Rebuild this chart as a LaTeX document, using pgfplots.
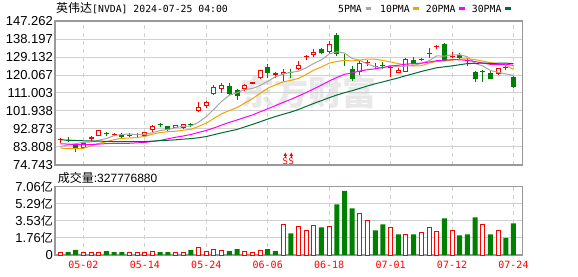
\documentclass[border=0pt]{standalone}
\usepackage{pgfplots}
\pgfplotsset{compat=1.18}
\usepackage{pgfplotstable}
\usepackage{fontspec}
\setmainfont{Liberation Sans}
\newfontfamily\cjk{Noto Sans CJK SC}
\newfontfamily\mono{DejaVu Sans Mono}

\definecolor{upred}{HTML}{FF0000}
\definecolor{dngreen}{HTML}{008000}
\definecolor{mafive}{HTML}{A6A6A6}
\definecolor{maten}{HTML}{F2A300}
\definecolor{matwenty}{HTML}{FF00FF}
\definecolor{mathirty}{HTML}{006B36}
\definecolor{framec}{HTML}{999999}
\definecolor{gridc}{HTML}{D0D0D0}

% red (up) candles
\pgfplotstableread{
i O H L C
0 87.20 88.30 85.70 87.76
3 83.10 86.10 82.60 85.82
4 88.00 89.30 87.00 88.79
5 89.50 92.20 89.30 92.14
7 89.70 90.90 89.50 90.41
11 89.50 91.50 89.20 91.36
12 92.40 94.90 91.50 94.63
15 93.40 95.00 93.20 94.78
16 93.60 95.50 92.90 95.39
18 102.10 106.30 101.30 103.80
19 104.50 107.10 103.30 106.47
20 110.30 115.00 109.80 113.90
21 113.20 115.90 111.20 114.83
24 113.20 115.50 112.00 115.00
25 115.70 116.70 115.50 116.44
26 118.40 122.60 118.10 122.44
28 120.20 121.60 118.70 120.89
29 120.60 122.90 117.00 121.79
31 123.30 127.10 122.40 125.20
32 129.30 130.20 127.50 129.80
33 130.00 133.30 129.10 131.88
35 131.60 137.20 130.50 135.58
39 121.70 127.10 120.10 126.09
40 126.10 127.50 124.60 126.60
43 123.80 124.60 119.20 124.30
44 121.20 123.80 121.00 122.67
45 121.70 128.50 121.50 128.28
47 127.60 128.80 127.10 128.20
48 130.90 133.80 128.50 131.38
49 134.20 135.20 133.00 134.91
51 129.00 131.80 128.50 129.50
57 120.70 123.80 120.10 123.54
}\redtab

% hollow interiors of the larger up candles
\pgfplotstableread{
i O C
3 83.10 85.82
5 89.50 92.14
11 89.50 91.36
12 92.40 94.63
15 93.40 94.78
16 93.60 95.39
18 102.10 103.80
19 104.50 106.47
20 110.30 113.90
21 113.20 114.83
24 113.20 115.00
26 118.40 122.44
29 120.60 121.79
31 123.30 125.20
33 130.00 131.88
35 131.60 135.58
39 121.70 126.09
44 121.20 122.67
45 121.70 128.28
57 120.70 123.54
}\hollowtab

% green (down) candles
\pgfplotstableread{
i O H L C
1 87.40 88.60 86.20 86.90
2 84.60 85.20 81.30 83.04
6 91.00 91.50 89.50 90.55
8 89.90 90.70 88.20 88.75
9 90.10 91.00 89.00 89.87
10 90.40 90.90 88.70 89.95
13 95.20 95.80 94.00 94.80
14 94.20 94.60 91.90 92.48
17 95.50 96.10 94.00 95.10
22 114.40 116.00 110.00 110.50
23 112.50 112.80 107.30 109.63
27 124.10 125.80 118.70 120.99
30 121.70 122.90 118.70 121.20
34 133.30 133.80 130.50 130.98
36 140.20 141.40 129.60 130.78
37 127.70 130.50 124.60 127.20
38 122.90 124.60 117.00 118.11
41 124.40 126.30 122.90 124.00
42 124.90 126.80 122.90 124.50
46 127.60 129.10 125.40 125.83
50 135.80 136.20 127.04 127.10
52 130.10 131.30 128.00 128.44
53 127.40 128.50 124.60 127.00
54 121.70 122.10 116.70 117.99
55 122.30 122.40 116.70 121.90
56 121.20 122.10 117.90 118.30
58 123.90 124.60 122.40 123.50
59 119.20 119.50 113.60 114.25
}\greentab

% moving averages: a=5, b=10, c=20, d=30
\pgfplotstableread{
i a b c d
0 84.05 83.21 85.43 87.37
1 84.84 83.11 85.28 87.30
2 85.51 83.01 84.98 87.09
3 86.15 83.12 84.98 86.94
4 86.36 84.38 85.02 86.85
5 87.24 85.64 85.27 86.78
6 88.07 86.46 85.53 86.63
7 89.54 87.53 85.70 86.56
8 90.13 88.14 85.61 86.51
9 90.34 88.35 85.69 86.49
10 89.99 88.62 85.91 86.49
11 90.16 89.11 86.11 86.56
12 91.00 90.27 86.64 86.75
13 92.12 91.13 87.12 87.03
14 92.64 91.49 87.94 87.18
15 93.52 91.76 88.70 87.43
16 94.33 92.24 89.35 87.77
17 94.39 92.70 90.11 88.03
18 96.28 94.20 91.17 88.47
19 99.08 95.86 92.11 89.08
20 102.90 98.21 93.41 90.01
21 106.79 100.56 94.84 90.93
22 109.90 102.15 96.21 91.81
23 111.07 103.67 97.40 92.64
24 112.77 105.93 98.71 93.93
25 113.28 108.09 99.92 95.16
26 114.80 110.80 101.52 96.50
27 116.90 113.40 103.05 97.87
28 119.15 115.11 104.66 99.15
29 120.51 116.64 106.25 100.29
30 121.40 117.34 107.78 101.39
31 121.96 118.38 109.47 102.68
32 123.68 120.29 111.22 104.24
33 125.88 122.52 113.09 105.77
34 127.72 124.11 115.02 107.18
35 130.65 126.03 117.06 108.63
36 131.77 126.86 118.83 109.97
37 131.16 127.42 120.41 111.17
38 128.40 127.14 121.13 112.15
39 127.43 127.57 122.11 113.36
40 125.59 128.12 122.73 114.56
41 124.23 128.00 123.19 115.65
42 123.63 127.39 123.84 116.61
43 124.86 126.63 124.57 117.61
44 124.18 125.80 124.96 118.61
45 124.56 125.07 125.55 119.73
46 124.92 124.58 125.72 120.75
47 125.86 124.74 126.08 121.85
48 127.27 126.07 126.60 122.77
49 129.72 126.95 127.26 123.72
50 129.54 127.05 127.59 124.17
51 130.23 127.58 127.79 124.65
52 130.27 128.07 127.73 125.25
53 129.27 128.27 127.45 125.81
54 125.89 127.80 126.80 125.91
55 124.62 127.08 126.08 126.06
56 122.36 126.29 125.44 125.91
57 121.38 125.83 125.28 126.00
58 120.63 124.95 125.51 126.05
59 119.88 122.88 124.92 125.80
}\matab

% volume (units of 1e8 shares)
\pgfplotstableread{
i v
0 0.31
3 0.28
4 0.28
5 0.28
9 0.28
10 0.21
11 0.21
12 0.38
15 0.28
16 0.28
18 0.79
19 0.38
20 0.59
21 0.48
24 0.38
25 0.28
26 0.48
29 3.17
31 2.96
32 2.55
33 3.07
35 2.96
39 4.31
40 3.58
43 2.86
45 2.10
47 2.34
48 2.86
49 2.45
51 2.55
55 3.17
57 2.55
}\volred

\pgfplotstableread{
i v
1 0.31
2 0.52
6 0.41
7 0.31
8 0.31
13 0.31
14 0.31
17 0.52
22 0.41
23 0.62
27 0.62
28 0.41
30 2.24
34 2.86
36 5.24
37 6.62
38 4.83
41 2.55
42 3.17
44 2.14
46 2.14
50 3.79
52 2.03
53 2.14
54 3.90
56 2.14
58 1.76
59 3.28
}\volgreen

\pgfplotsset{
  kbase/.style={
    scale only axis, width=467.7pt,
    xmin=-0.7, xmax=60.2,
    axis line style={framec, line width=1.2pt},
    xtick={3,11,19,27,35,43,51,59},
    major tick length=0pt,
    xmajorgrids, ymajorgrids,
    x grid style={gridc, dash pattern=on 4pt off 4pt, line width=1pt},
    y grid style={gridc, line width=1pt},
    yticklabel style={font=\fontsize{13}{13}\selectfont, anchor=east, inner sep=0pt, xshift=-2pt},
  },
  candle/.style={draw=none, mark=none,
    error bars/.cd, y dir=plus, y explicit, error mark=none,
    error bar style={line width=#1}},
}

\begin{document}
\begin{tikzpicture}
\path[use as bounding box] (0pt,0pt) rectangle (578pt,-276pt);
\fill[white] (0pt,0pt) rectangle (578pt,-276pt);

% watermark
\node[text=black!9, font=\cjk\bfseries\fontsize{34}{34}\selectfont, inner sep=0pt] at (308pt,-92pt) {东方财富};

% title and legend
\node[anchor=west, inner sep=0pt] at (56pt,-8.5pt) {{\cjk\fontsize{12}{12}\selectfont 英伟达}{\mono\fontsize{9.8}{10}\selectfont [NVDA] 2024-07-25 04:00}};
\node[anchor=west, inner sep=0pt, font=\mono\fontsize{9.8}{10}\selectfont] at (338pt,-8.5pt) {5PMA};
\fill[mafive] (365.5pt,-7.3pt) rectangle (371pt,-10pt);
\node[anchor=west, inner sep=0pt, font=\mono\fontsize{9.8}{10}\selectfont] at (380pt,-8.5pt) {10PMA};
\fill[maten] (413pt,-7.3pt) rectangle (418.5pt,-10pt);
\node[anchor=west, inner sep=0pt, font=\mono\fontsize{9.8}{10}\selectfont] at (425.7pt,-8.5pt) {20PMA};
\fill[matwenty] (459pt,-7.3pt) rectangle (464.7pt,-10pt);
\node[anchor=west, inner sep=0pt, font=\mono\fontsize{9.8}{10}\selectfont] at (471.7pt,-8.5pt) {30PMA};
\fill[mathirty] (505pt,-7.3pt) rectangle (510.7pt,-10pt);

% price panel
\begin{axis}[kbase, at={(55pt,-21pt)}, anchor=north west, height=144pt,
  ymin=74.743, ymax=147.262,
  ytick={74.743,83.808,92.873,101.938,111.003,120.067,129.132,138.197,147.262},
  yticklabels={74.743,83.808,92.873,101.938,111.003,120.067,129.132,138.197,147.262},
  xticklabels={}]
% wicks
\addplot[candle=1pt, error bar style={draw=upred}] table[x=i, y=L, y error plus expr=\thisrow{H}-\thisrow{L}] {\redtab};
\addplot[candle=1pt, error bar style={draw=dngreen}] table[x=i, y=L, y error plus expr=\thisrow{H}-\thisrow{L}] {\greentab};
% bodies
\addplot[candle=5pt, error bar style={draw=upred}] table[x=i, y=O, y error plus expr=\thisrow{C}-\thisrow{O}] {\redtab};
\addplot[candle=5pt, error bar style={draw=dngreen}] table[x=i, y=C, y error plus expr=\thisrow{O}-\thisrow{C}] {\greentab};
\addplot[candle=3pt, error bar style={draw=white}] table[x=i, y expr=\thisrow{O}+0.5036, y error plus expr=\thisrow{C}-\thisrow{O}-1.0072] {\hollowtab};
% moving averages
\addplot[mafive, line width=1pt, mark=none] table[x=i, y=a] {\matab};
\addplot[maten, line width=1pt, mark=none] table[x=i, y=b] {\matab};
\addplot[matwenty, line width=1pt, mark=none] table[x=i, y=c] {\matab};
\addplot[mathirty, line width=1pt, mark=none] table[x=i, y=d] {\matab};
\end{axis}

% split markers
\foreach \xx in {285.3,291.3}{
  \fill[upred] (\xx pt-1.8pt,-156pt) -- (\xx pt+1.8pt,-156pt) -- (\xx pt,-152.5pt) -- cycle;
  \draw[upred, line width=0.8pt] (\xx pt,-156pt) -- (\xx pt,-157.5pt);
  \node[text=upred, font=\mono\fontsize{9}{9}\selectfont, inner sep=0pt] at (\xx pt,-161.5pt) {S};
}

% volume header
\node[anchor=west, inner sep=0pt] at (57.7pt,-177.5pt) {{\cjk\fontsize{12}{12}\selectfont 成交量}{\fontsize{12}{12}\selectfont :327776880}};

% volume panel
\begin{axis}[kbase, at={(55pt,-186.7pt)}, anchor=north west, height=68.3pt,
  ymin=0, ymax=7.06,
  ytick={0,1.76,3.53,5.29,7.06},
  yticklabels={0,1.76{\cjk\fontsize{12}{12}\selectfont 亿},3.53{\cjk\fontsize{12}{12}\selectfont 亿},5.29{\cjk\fontsize{12}{12}\selectfont 亿},7.06{\cjk\fontsize{12}{12}\selectfont 亿}},
  xticklabels={05-02,05-14,05-24,06-06,06-18,07-01,07-12,07-24},
  xticklabel style={font=\mono\fontsize{10}{10}\selectfont, text=upred, anchor=north, inner sep=0pt, yshift=-6pt}]
\addplot[ybar, bar width=4pt, bar shift=0pt, draw=upred, fill=white, line width=1pt] table[x=i, y=v] {\volred};
\addplot[ybar, bar width=5pt, bar shift=0pt, draw=none, fill=dngreen] table[x=i, y=v] {\volgreen};
\end{axis}
\end{tikzpicture}
\end{document}
